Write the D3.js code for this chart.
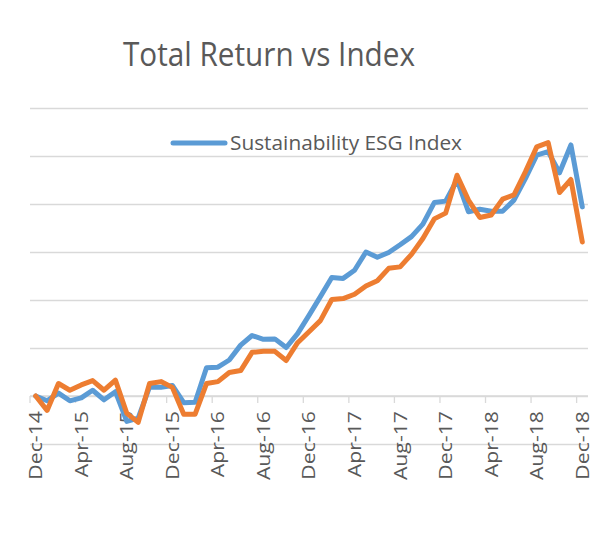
<!DOCTYPE html>
<html>
<head>
<meta charset="utf-8">
<script src="https://cdn.jsdelivr.net/npm/d3@7"></script>
<style>
  body { margin: 0; background: #fff; }
  svg { display: block; font-family: "Open Sans", sans-serif; }
</style>
</head>
<body>
<svg id="chart" width="607" height="550"></svg>
<script>
// Monthly categories, Dec-14 .. Dec-18
const months = [
  "Dec-14","Jan-15","Feb-15","Mar-15","Apr-15","May-15","Jun-15","Jul-15","Aug-15","Sep-15","Oct-15","Nov-15",
  "Dec-15","Jan-16","Feb-16","Mar-16","Apr-16","May-16","Jun-16","Jul-16","Aug-16","Sep-16","Oct-16","Nov-16",
  "Dec-16","Jan-17","Feb-17","Mar-17","Apr-17","May-17","Jun-17","Jul-17","Aug-17","Sep-17","Oct-17","Nov-17",
  "Dec-17","Jan-18","Feb-18","Mar-18","Apr-18","May-18","Jun-18","Jul-18","Aug-18","Sep-18","Oct-18","Nov-18",
  "Dec-18"
];

// Sustainability ESG Index (blue), cumulative return %
const esgIndex = [
  0, -1, 0.6, -1, -0.4, 1.2, -0.8, 0.9, -5.3, -4.6, 1.9, 1.8,
  2.2, -1.4, -1.3, 5.9, 6, 7.5, 10.6, 12.6, 11.8, 11.9, 10.1, 13,
  16.8, 20.7, 24.7, 24.5, 26.2, 30, 28.9, 29.9, 31.5, 33.2, 35.8, 40.3,
  40.6, 45, 38.4, 38.9, 38.5, 38.5, 40.8, 45.3, 50.2, 50.9, 46.5, 52.3,
  39.4
];

// Total return (orange), cumulative return %
const totalReturn = [
  0, -3, 2.6, 1.2, 2.3, 3.2, 1.2, 3.3, -3.6, -5.5, 2.6, 3,
  1.8, -3.8, -3.8, 2.6, 3, 4.9, 5.3, 9.1, 9.3, 9.3, 7.4, 11.1,
  13.4, 15.7, 20.1, 20.3, 21.2, 22.9, 24, 26.6, 26.9, 29.5, 32.8, 36.9,
  38.1, 46, 40.8, 37.2, 37.7, 41, 41.9, 46.7, 51.9, 52.8, 42.4, 45.1,
  32.1
];

const yTicks = [-10, 0, 10, 20, 30, 40, 50, 60];

const svg = d3.select("#chart");
const plotLeft = 30, plotRight = 588, plotTop = 108, plotBottom = 444;

const x = d3.scaleBand().domain(months).range([plotLeft, plotRight]).padding(0);
const y = d3.scaleLinear().domain([-10, 60]).range([plotBottom, plotTop]);
const cx = m => x(m) + x.bandwidth() / 2;

// Title
svg.append("text")
  .attr("x", 269).attr("y", 66)
  .attr("text-anchor", "middle")
  .attr("font-size", 32)
  .attr("fill", "#595959")
  .attr("textLength", 292)
  .attr("lengthAdjust", "spacingAndGlyphs")
  .text("Total Return vs Index");

// Gridlines
const grid = svg.append("g")
  .attr("transform", `translate(${plotLeft},0)`)
  .call(d3.axisLeft(y).tickValues(yTicks).tickSize(-(plotRight - plotLeft)).tickFormat(""));
grid.select(".domain").remove();
grid.selectAll("line").attr("stroke", "#D9D9D9").attr("stroke-width", 1.3);

// Category axis crossing at 0
const xAxis = svg.append("g")
  .attr("transform", `translate(0,${y(0)})`);
xAxis.append("line")
  .attr("x1", plotLeft).attr("x2", plotRight)
  .attr("stroke", "#D9D9D9").attr("stroke-width", 1.3);
xAxis.selectAll(".tick")
  .data(months.filter((m, i) => i % 4 === 0))
  .join("line")
  .attr("class", "tick")
  .attr("x1", m => x(m)).attr("x2", m => x(m))
  .attr("y1", 0).attr("y2", 7)
  .attr("stroke", "#D9D9D9").attr("stroke-width", 1.3);

xAxis.selectAll(".lbl")
  .data(months.filter((m, i) => i % 4 === 0))
  .join("text")
  .attr("class", "lbl")
  .attr("transform", m => `translate(${cx(m)},15) rotate(-90)`)
  .attr("text-anchor", "end")
  .attr("dy", "0.36em")
  .attr("font-size", 18)
  .attr("fill", "#595959")
  .text(m => m)
  .each(function () {
    // stretch to the taller label look of the original
    const len = this.getComputedTextLength();
    d3.select(this)
      .attr("textLength", len * 1.18)
      .attr("lengthAdjust", "spacingAndGlyphs");
  });

// Lines
const line = d3.line()
  .x((d, i) => cx(months[i]))
  .y(d => y(d));

svg.append("path")
  .datum(esgIndex)
  .attr("d", line)
  .attr("fill", "none")
  .attr("stroke", "#5B9BD5")
  .attr("stroke-width", 5)
  .attr("stroke-linejoin", "round")
  .attr("stroke-linecap", "round");

svg.append("path")
  .datum(totalReturn)
  .attr("d", line)
  .attr("fill", "none")
  .attr("stroke", "#ED7D31")
  .attr("stroke-width", 5)
  .attr("stroke-linejoin", "round")
  .attr("stroke-linecap", "round");

// Legend
const legend = svg.append("g");
legend.append("line")
  .attr("x1", 173).attr("x2", 225)
  .attr("y1", 143).attr("y2", 143)
  .attr("stroke", "#5B9BD5").attr("stroke-width", 5)
  .attr("stroke-linecap", "round");
legend.append("text")
  .attr("x", 230).attr("y", 150)
  .attr("font-size", 20)
  .attr("fill", "#595959")
  .attr("textLength", 232)
  .attr("lengthAdjust", "spacingAndGlyphs")
  .text("Sustainability ESG Index");
</script>
</body>
</html>
